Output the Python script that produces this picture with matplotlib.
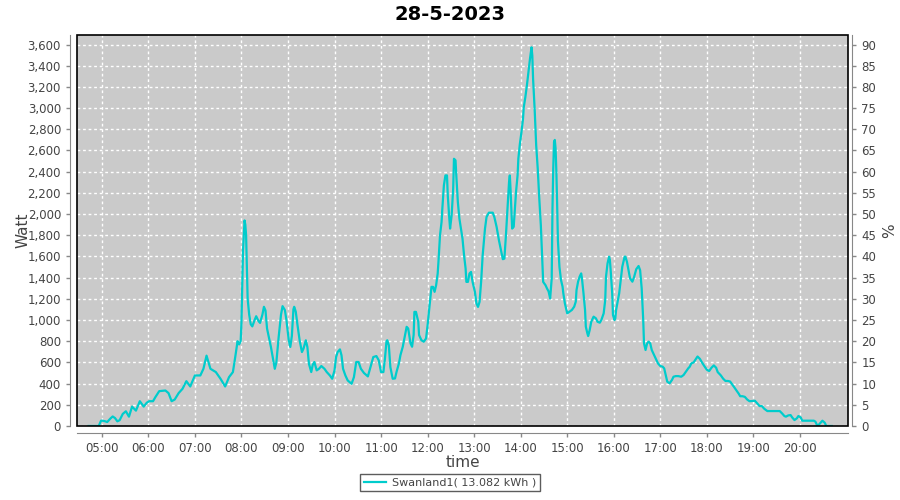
import pandas as pd
import matplotlib
matplotlib.use("Agg")
import matplotlib.pyplot as plt
import matplotlib.dates as mdates
from matplotlib.ticker import MultipleLocator, FuncFormatter
from matplotlib.patches import Rectangle

# Data (time of day, power in watts)
day = "2023-05-28"
times = [
    "04:43", "04:56", "04:59", "05:01", "05:04", "05:07", "05:11", "05:14", "05:17", "05:20",
    "05:23", "05:27", "05:31", "05:35", "05:39", "05:44", "05:49", "05:54", "05:58", "06:01",
    "06:06", "06:09", "06:14", "06:22", "06:26", "06:30", "06:34", "06:39", "06:44", "06:49",
    "06:54", "07:00", "07:04", "07:07", "07:11", "07:15", "07:20", "07:27", "07:33", "07:39",
    "07:44", "07:49", "07:52", "07:55", "07:57", "07:59", "08:00", "08:01", "08:02", "08:04",
    "08:05", "08:06", "08:07", "08:08", "08:10", "08:12", "08:14", "08:17", "08:19", "08:22",
    "08:24", "08:27", "08:29", "08:31", "08:33", "08:38", "08:41", "08:43", "08:45", "08:48",
    "08:51", "08:53", "08:56", "08:58", "09:01", "09:03", "09:05", "09:07", "09:08", "09:10",
    "09:12", "09:15", "09:18", "09:20", "09:23", "09:25", "09:27", "09:30", "09:32", "09:34",
    "09:37", "09:40", "09:43", "09:47", "09:50", "09:54", "09:57", "10:00", "10:02", "10:04",
    "10:07", "10:09", "10:11", "10:14", "10:17", "10:22", "10:25", "10:28", "10:31", "10:34",
    "10:38", "10:43", "10:47", "10:50", "10:54", "10:57", "11:00", "11:03", "11:05", "11:07",
    "11:08", "11:10", "11:12", "11:15", "11:18", "11:20", "11:23", "11:25", "11:28", "11:31",
    "11:33", "11:35", "11:38", "11:40", "11:42", "11:43", "11:45", "11:48", "11:49", "11:52",
    "11:55", "11:58", "12:00", "12:03", "12:05", "12:07", "12:09", "12:11", "12:13", "12:14",
    "12:16", "12:18", "12:19", "12:21", "12:23", "12:25", "12:26", "12:28", "12:29", "12:31",
    "12:33", "12:34", "12:36", "12:37", "12:39", "12:41", "12:43", "12:45", "12:47", "12:49",
    "12:50", "12:52", "12:54", "12:56", "12:58", "13:01", "13:03", "13:05", "13:07", "13:09",
    "13:11", "13:14", "13:16", "13:19", "13:24", "13:26", "13:29", "13:32", "13:35", "13:37",
    "13:39", "13:41", "13:43", "13:45", "13:46", "13:47", "13:49", "13:51", "13:52", "13:54",
    "13:56", "13:57", "13:59", "14:01", "14:03", "14:04", "14:06", "14:08", "14:10", "14:12",
    "14:14", "14:15", "14:16", "14:18", "14:20", "14:22", "14:24", "14:26", "14:28", "14:29",
    "14:32", "14:34", "14:36", "14:38", "14:40", "14:41", "14:42", "14:43", "14:44", "14:45",
    "14:46", "14:47", "14:48", "14:50", "14:52", "14:54", "14:55", "14:57", "14:59", "15:00",
    "15:03", "15:06", "15:09", "15:11", "15:12", "15:14", "15:16", "15:18", "15:19", "15:21",
    "15:23", "15:24", "15:26", "15:27", "15:29", "15:31", "15:34", "15:37", "15:39", "15:42",
    "15:44", "15:47", "15:49", "15:50", "15:52", "15:54", "15:55", "15:56", "15:58", "15:59",
    "16:01", "16:02", "16:03", "16:05", "16:07", "16:09", "16:11", "16:14", "16:15", "16:17",
    "16:19", "16:21", "16:24", "16:26", "16:29", "16:32", "16:34", "16:36", "16:38", "16:39",
    "16:41", "16:43", "16:45", "16:47", "16:49", "16:51", "16:53", "16:55", "16:57", "17:00",
    "17:03", "17:05", "17:07", "17:09", "17:12", "17:15", "17:17", "17:20", "17:23", "17:27",
    "17:30", "17:33", "17:36", "17:38", "17:40", "17:43", "17:46", "17:48", "17:51", "17:54",
    "17:57", "18:00", "18:03", "18:06", "18:09", "18:12", "18:14", "18:18", "18:21", "18:24",
    "18:27", "18:30", "18:32", "18:35", "18:38", "18:41", "18:43", "18:46", "18:49", "18:52",
    "18:55", "18:58", "19:02", "19:05", "19:08", "19:11", "19:14", "19:18", "19:25", "19:34",
    "19:37", "19:40", "19:42", "19:45", "19:48", "19:50", "19:53", "19:56", "19:58", "20:01",
    "20:03", "20:18", "20:20", "20:22", "20:24", "20:27", "20:29", "20:32", "20:34", "20:41",
]
watts = [
    0, 0, 50, 50, 45, 38, 70, 90, 75, 44,
    55, 114, 139, 88, 183, 145, 234, 183, 220, 234,
    234, 272, 329, 335, 310, 234, 250, 310, 351, 423,
    373, 477, 477, 477, 540, 664, 540, 509, 446, 373,
    461, 509, 651, 800, 770, 800, 970, 1300, 1650, 1940,
    1900, 1800, 1500, 1200, 1050, 960, 940, 1000, 1036, 990,
    973, 1050, 1125, 1090, 920, 746, 620, 540, 600, 840,
    1050, 1131, 1094, 1000, 809, 746, 850, 1100, 1125, 1080,
    967, 809, 698, 730, 809, 746, 588, 509, 580, 604,
    525, 540, 566, 540, 509, 477, 446, 525, 650, 698,
    723, 667, 540, 477, 430, 398, 461, 604, 604, 540,
    500, 468, 572, 651, 660, 620, 509, 509, 635, 800,
    809, 762, 556, 446, 449, 512, 590, 669, 748, 858,
    936, 920, 779, 748, 860, 1077, 1077, 983, 858, 810,
    795, 826, 952, 1172, 1313, 1313, 1266, 1329, 1439, 1549,
    1800, 1925, 2051, 2271, 2365, 2365, 2177, 1957, 1863, 1988,
    2240, 2522, 2507, 2365, 2114, 1957, 1863, 1768, 1611, 1486,
    1360, 1360, 1439, 1454, 1360, 1266, 1156, 1124, 1172, 1360,
    1611, 1863, 1973, 2013, 2013, 1973, 1878, 1752, 1643, 1574,
    1580, 1800, 2051, 2302, 2365, 2224, 1863, 1880, 1988, 2208,
    2365, 2522, 2664, 2773, 2899, 3009, 3103, 3213, 3342, 3465,
    3574, 3495, 3275, 2993, 2648, 2428, 2145, 1894, 1549, 1360,
    1329, 1297, 1270, 1203, 1391, 2051, 2430, 2680, 2700, 2620,
    2400, 2100, 1750, 1500, 1377, 1315, 1252, 1157, 1094, 1063,
    1079, 1095, 1126, 1173, 1283, 1362, 1409, 1440, 1393, 1252,
    1094, 937, 874, 849, 906, 984, 1032, 1016, 984, 975,
    1000, 1063, 1189, 1409, 1535, 1598, 1566, 1472, 1252, 1047,
    1000, 1016, 1094, 1173, 1252, 1377, 1503, 1598, 1598, 1550,
    1472, 1393, 1362, 1400, 1480, 1510, 1470, 1300, 1000, 780,
    717, 780, 796, 780, 717, 686, 654, 623, 591, 566,
    560, 544, 481, 418, 403, 434, 465, 471, 471, 465,
    481, 513, 544, 560, 591, 600, 634, 656, 634, 597,
    563, 531, 519, 550, 572, 550, 509, 478, 447, 425,
    425, 420, 400, 369, 338, 306, 281, 281, 275, 250,
    234, 236, 238, 213, 188, 188, 163, 141, 141, 141,
    119, 94, 88, 100, 103, 81, 56, 72, 94, 81,
    50, 50, 41, 9, 9, 34, 50, 31, 0, 0,
]
series_name = "Swanland1( 13.082 kWh )"

t = pd.to_datetime([day + " " + s for s in times])

fig = plt.figure(figsize=(9, 5), dpi=100)
ax = fig.add_axes([77 / 900, 74 / 500, 771 / 900, 391 / 500])
ax.set_facecolor("#cacaca")

line, = ax.plot(t, watts, color="#00cccc", lw=1.6, label=series_name)

ax.set_xlim(pd.Timestamp(day + " 04:28"), pd.Timestamp(day + " 21:02"))
ax.set_ylim(0, 3690)
ax.yaxis.set_major_locator(MultipleLocator(200))
ax.yaxis.set_major_formatter(FuncFormatter(lambda v, p: f"{int(v):,}"))
ax.xaxis.set_major_locator(mdates.HourLocator(byhour=range(5, 21)))
ax.xaxis.set_major_formatter(mdates.DateFormatter("%H:%M"))

ax.grid(True, color="white", linestyle=(0, (2, 2)), linewidth=1)
ax.set_axisbelow(True)

for side in ["top", "right"]:
    ax.spines[side].set_visible(False)
for side in ["left", "bottom"]:
    ax.spines[side].set_position(("outward", 5))
    ax.spines[side].set_color("#888888")
ax.tick_params(axis="both", colors="#888888", labelcolor="#444444",
               labelsize=8.5, length=3, width=1)

# plot outline
ax.add_patch(Rectangle((0, 0), 1, 1, transform=ax.transAxes, fill=False,
                       edgecolor="black", lw=1.2, clip_on=False, zorder=5))

ax2 = ax.twinx()
ax2.set_ylim(0, 3690 / 40)
ax2.yaxis.set_major_locator(MultipleLocator(5))
for side in ["top", "left", "bottom"]:
    ax2.spines[side].set_visible(False)
ax2.spines["right"].set_position(("outward", 3))
ax2.spines["right"].set_color("#888888")
ax2.tick_params(axis="y", colors="#888888", labelcolor="#444444",
                labelsize=8.5, length=3, width=1)

ax.set_ylabel("Watt", fontsize=11, color="#444444", labelpad=-2)
ax.set_xlabel("time", fontsize=11, color="#444444", labelpad=0)
ax2.set_ylabel("%", fontsize=11, color="#444444", labelpad=4)

fig.text(0.5, 1 - 14 / 500, "28-5-2023", ha="center", va="center",
         fontsize=14, fontweight="bold")

leg = fig.legend(handles=[line], loc="lower center", bbox_to_anchor=(0.5, 0.006),
                 fontsize=8, frameon=True, fancybox=False, handlelength=2,
                 borderpad=0.35, handletextpad=0.5)
leg.get_frame().set_edgecolor("#333333")
leg.get_frame().set_linewidth(1)
for txt in leg.get_texts():
    txt.set_color("#444444")

fig.savefig("out.png", dpi=100)
